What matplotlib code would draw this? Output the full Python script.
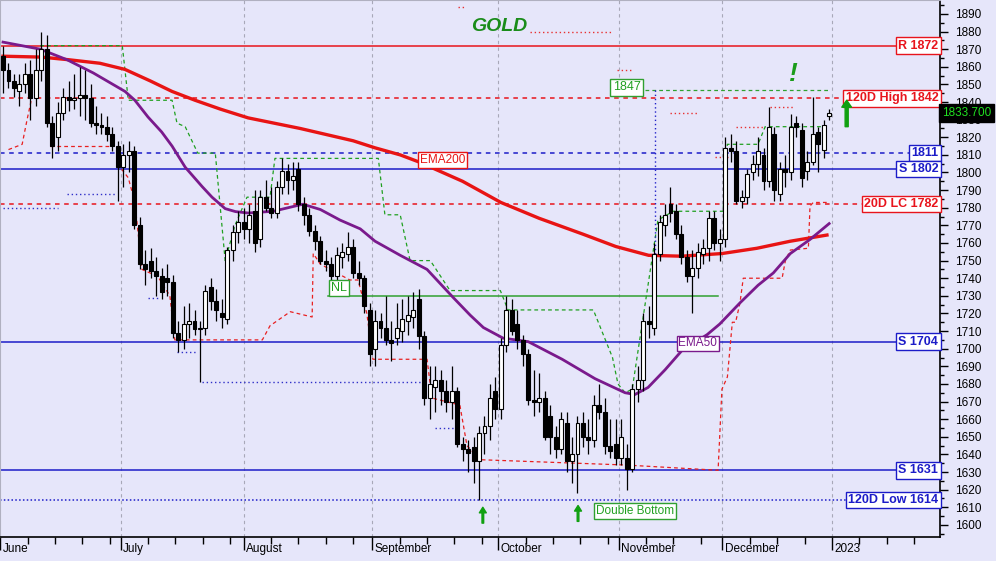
import numpy as np
import matplotlib
matplotlib.use("Agg")
import matplotlib.pyplot as plt
import matplotlib.transforms as mtransforms

# ---- data -----------------------------------------------------------------
opens = [1866, 1858, 1852, 1846, 1850, 1856, 1842, 1858, 1870, 1828, 1820, 1834, 1843, 1841, 1842, 1844,
         1842, 1828, 1827, 1826, 1822, 1815,
         1803, 1810, 1812, 1770, 1748, 1750, 1744, 1741, 1740, 1738, 1709, 1705, 1714, 1716, 1711, 1712,
         1735, 1727, 1720, 1717, 1756, 1766,
         1772, 1768, 1778, 1762, 1786, 1780, 1777, 1792, 1801, 1796, 1802, 1782, 1776, 1767, 1761, 1750,
         1748, 1741, 1752, 1754, 1758, 1743, 1740,
         1722, 1700, 1716, 1712, 1705, 1706, 1710, 1716, 1718, 1728, 1707, 1672, 1678, 1682, 1676, 1670,
         1676, 1646, 1643, 1644, 1636, 1652,
         1656, 1676, 1666, 1702, 1722, 1714, 1705, 1697, 1671, 1670, 1672, 1662, 1650, 1643, 1658, 1636,
         1640, 1658, 1650, 1648, 1668,
         1664, 1645, 1646, 1638, 1638, 1632, 1677, 1682, 1716, 1712, 1754, 1770, 1782, 1778, 1765, 1752,
         1741, 1746, 1754, 1757, 1774, 1760,
         1762, 1814, 1812, 1784, 1786, 1800, 1805, 1810, 1795, 1822, 1788, 1802, 1800, 1828, 1824, 1801,
         1806, 1823, 1813, 1832]
highs = [1872, 1862, 1856, 1856, 1862, 1864, 1870, 1880, 1878, 1832, 1840, 1848, 1852, 1856, 1860, 1858,
         1850, 1838, 1834, 1832, 1826, 1818,
         1816, 1818, 1815, 1775, 1756, 1757, 1752, 1746, 1748, 1742, 1716, 1724, 1726, 1722, 1716, 1736,
         1740, 1734, 1728, 1758, 1770, 1778,
         1780, 1782, 1790, 1790, 1796, 1792, 1795, 1808, 1805, 1806, 1806, 1786, 1780, 1770, 1764, 1756,
         1752, 1758, 1760, 1766, 1762, 1750, 1742,
         1726, 1722, 1720, 1730, 1716, 1726, 1728, 1730, 1732, 1734, 1710, 1690, 1690, 1688, 1682, 1690,
         1678, 1650, 1648, 1650, 1656, 1662,
         1680, 1684, 1706, 1730, 1728, 1722, 1708, 1700, 1688, 1686, 1676, 1668, 1656, 1664, 1664, 1650,
         1662, 1664, 1660, 1674, 1680,
         1672, 1660, 1660, 1660, 1646, 1680, 1690, 1720, 1724, 1760, 1776, 1782, 1792, 1782, 1770, 1756,
         1756, 1760, 1762, 1778, 1778, 1768,
         1820, 1822, 1818, 1790, 1802, 1810, 1820, 1814, 1837, 1826, 1806, 1810, 1833, 1832, 1828, 1812,
         1843, 1826, 1830, 1836]
lows = [1845, 1848, 1843, 1838, 1845, 1830, 1838, 1852, 1826, 1808, 1812, 1830, 1835, 1836, 1832, 1830,
        1826, 1822, 1822, 1818, 1812, 1784,
        1792, 1800, 1768, 1745, 1736, 1740, 1730, 1728, 1730, 1706, 1698, 1700, 1706, 1708, 1681, 1708,
        1722, 1716, 1712, 1714, 1750, 1760,
        1762, 1760, 1755, 1758, 1778, 1774, 1774, 1788, 1788, 1790, 1778, 1770, 1764, 1756, 1748, 1744,
        1738, 1738, 1746, 1750, 1740, 1736, 1720,
        1690, 1690, 1706, 1702, 1693, 1702, 1704, 1708, 1712, 1700, 1668, 1660, 1664, 1668, 1664, 1660,
        1644, 1636, 1630, 1624, 1614, 1640,
        1648, 1660, 1660, 1698, 1708, 1700, 1690, 1668, 1662, 1664, 1648, 1640, 1638, 1640, 1630, 1624,
        1618, 1644, 1640, 1644, 1660,
        1640, 1638, 1634, 1634, 1620, 1630, 1670, 1676, 1706, 1708, 1750, 1764, 1772, 1762, 1748, 1738,
        1720, 1740, 1748, 1750, 1756, 1750,
        1758, 1806, 1782, 1780, 1782, 1796, 1798, 1790, 1792, 1784, 1784, 1792, 1796, 1820, 1792, 1796,
        1804, 1800, 1808, 1830]
closes = [1858, 1852, 1848, 1850, 1856, 1842, 1858, 1870, 1828, 1815, 1834, 1843, 1841, 1842, 1844, 1842,
          1828, 1827, 1826, 1822, 1815, 1803,
          1810, 1812, 1770, 1748, 1745, 1744, 1741, 1732, 1738, 1709, 1705, 1714, 1716, 1711, 1712, 1733,
          1727, 1722, 1718, 1756, 1766, 1772,
          1768, 1776, 1760, 1786, 1780, 1777, 1792, 1801, 1796, 1798, 1782, 1776, 1767, 1761, 1750, 1748,
          1741, 1753, 1755, 1758, 1743, 1740, 1724,
          1697, 1716, 1712, 1705, 1703, 1712, 1717, 1719, 1722, 1707, 1672, 1680, 1682, 1676, 1670, 1676,
          1646, 1643, 1641, 1636, 1652, 1656,
          1672, 1666, 1702, 1722, 1710, 1705, 1697, 1671, 1670, 1672, 1650, 1650, 1643, 1660, 1636, 1640,
          1658, 1650, 1648, 1668, 1664,
          1645, 1642, 1638, 1650, 1632, 1677, 1682, 1716, 1714, 1754, 1772, 1776, 1777, 1765, 1752, 1741,
          1746, 1755, 1757, 1774, 1760, 1762,
          1814, 1812, 1784, 1786, 1799, 1805, 1812, 1795, 1826, 1790, 1802, 1800, 1826, 1826, 1797, 1806,
          1822, 1816, 1827, 1834]
last_price = 1833.7

# moving averages (candle index, value)
ema200_idx = [0, 7, 12, 17.7, 22.3, 26.9, 30.9, 35.1, 39.7, 44.8, 54.3, 64, 68, 72.6, 76, 84, 91, 98,
              106, 112, 118, 124, 131.4, 137.8, 143.9, 150.6]
ema200_val = [1866, 1865.5, 1864, 1862, 1858.5, 1852, 1846, 1841, 1836, 1831, 1825, 1818, 1814, 1810,
              1806, 1795, 1783, 1774, 1765, 1758, 1753, 1752.5, 1754, 1757, 1761, 1764.5]
ema50_idx = [0, 6.8, 11.7, 16.5, 22.3, 24.1, 26.5, 29, 30.9, 33.3, 36.4, 38.2, 40.6, 42.5, 44.8, 49.4,
             54.8, 58, 61.6, 65.3, 68, 72.6, 77.5, 82.3, 85.4, 87.8, 91.4, 96, 102.2, 108.2, 113.7,
             115.5, 117.9, 121, 124.1, 128.7, 131, 134.7, 138, 140.8, 143.9, 147.5, 151]
ema50_val = [1874, 1870, 1864, 1856.5, 1846, 1841, 1831.5, 1823, 1815, 1803, 1792, 1786, 1779.5, 1777.8,
             1777, 1778, 1782, 1779, 1773, 1768, 1761, 1753, 1745, 1729, 1719, 1712, 1706, 1704, 1694,
             1683, 1675, 1674, 1678, 1688, 1699, 1708, 1714, 1726, 1736, 1743, 1754, 1762, 1771]

# trailing channels (candle index, value)
hi_chan_idx = [6.8, 21.8, 22.9, 30.9, 31.8, 33.3, 35.6, 38.8, 40.6, 42.4, 44.6, 48.8, 49.7, 68.6, 69.8,
               72.6, 74.4, 78.1, 81.7, 90.9, 92.3, 107.9, 110.1, 111.4, 112.4, 113.7, 115, 119.7, 122.5,
               131.6, 132.4, 138, 139.3, 149.7]
hi_chan_val = [1872, 1872, 1841, 1841, 1828, 1826, 1811, 1811, 1750, 1770, 1786, 1786, 1808, 1808, 1776,
               1776, 1750, 1750, 1733, 1733, 1722, 1722, 1705, 1695, 1680, 1675, 1677, 1773, 1778,
               1778, 1816, 1816, 1826, 1826]
lo_chan_idx = [20.9, 22.9, 24.1, 25.4, 28.3, 30.5, 31.4, 47.4, 48.8, 52.5, 56.5, 56.7, 58, 59.8, 63.4,
               64.9, 66.5, 67.6, 77.5, 78.4, 83.5, 84.8, 87.2, 113.7, 130.7, 131.4, 132.4, 133.3,
               133.9, 134.7, 135.3, 142.4, 143, 143.9, 147.2, 147.5, 148.1, 150.6]
lo_chan_val = [1805, 1797, 1783, 1745, 1741, 1730, 1705, 1705, 1713, 1721, 1718, 1754, 1748, 1745, 1739,
               1739, 1720, 1694, 1694, 1672, 1668, 1645, 1637, 1634, 1631, 1677, 1684, 1715,
               1715, 1726, 1740, 1740, 1750, 1756, 1757, 1781, 1783, 1783]
lo_chan2_idx = [1, 3.5, 4.4, 5.3]
lo_chan2_val = [1813, 1816, 1830, 1843]
lo_chan3_idx = [8.6, 19.6]
lo_chan3_val = [1815, 1815]

blue_dot_segments = [((0, 10), 1780), ((11.7, 20.5), 1788), ((26.5, 28.3), 1729),
                     ((31.8, 35.5), 1698), ((36.4, 77.5), 1681), ((79, 83.5), 1655)]
red_dot_segments = [((83.2, 84.5), 1894), ((96.3, 111.5), 1880), ((112.3, 115.2), 1858),
                    ((122, 127), 1834), ((130.2, 132.6), 1809), ((134, 139), 1826),
                    ((140.2, 144.8), 1837)]

# horizontal levels: (value, label, colour, linestyle)
levels = [(1872, "R 1872", "#e8141c", "-"),
          (1842, "120D High 1842", "#e8141c", (0, (3, 3))),
          (1811, "1811", "#1c1cc8", (0, (3, 3))),
          (1802, "S 1802", "#1c1cc8", "-"),
          (1782, "20D LC 1782", "#e8141c", (0, (3, 3))),
          (1704, "S 1704", "#1c1cc8", "-"),
          (1631, "S 1631", "#1c1cc8", "-"),
          (1614, "120D Low 1614", "#1c1cc8", (0, (1, 1.5)))]

month_names = ["June", "July", "August", "September", "October", "November", "December", "2023"]
month_starts = [-0.5, 21.5, 44, 67.5, 90.5, 112.5, 131.5, 151.5]

neckline = 1730
breakout_high = 1847

# ---- figure -----------------------------------------------------------------
BG = "#e6e6fa"
SANS = ["Liberation Sans", "DejaVu Sans"]
NARROW = ["Liberation Sans Narrow", "Liberation Sans", "DejaVu Sans"]

fig = plt.figure(figsize=(9.96, 5.61), dpi=100, facecolor=BG)
ax = fig.add_axes([0.0, 0.043, 0.944, 0.957], facecolor=BG)

n = len(closes)
x = np.arange(n)
o, h, l, c = map(np.asarray, (opens, highs, lows, closes))

ax.set_xlim(-0.55, 171.3)
ax.set_ylim(1593.2, 1897.9)

# month grid
for ms in month_starts[1:]:
    ax.axvline(ms, color="#a8a8b8", lw=0.8, ls=(0, (3, 3)), zorder=1)

# levels
ymix = mtransforms.blended_transform_factory(ax.transAxes, ax.transData)
for val, lab, col, ls in levels:
    ax.axhline(val, color=col, lw=1.1, ls=ls, zorder=2)
    ax.text(0.998, val, lab, transform=ymix, ha="right", va="center", color=col,
            fontsize=9, fontweight="bold", family=SANS, zorder=10,
            bbox=dict(boxstyle="square,pad=0.18", fc="white", ec=col, lw=1))

# dotted short channels
for (x0, x1), v in blue_dot_segments:
    ax.plot([x0, x1], [v, v], color="#3030c8", lw=1, ls=(0, (1, 2)), zorder=2)
for (x0, x1), v in red_dot_segments:
    ax.plot([x0, x1], [v, v], color="#e83030", lw=1, ls=(0, (1, 2)), zorder=2)

# trailing channels
ax.plot(hi_chan_idx, hi_chan_val, color="#20a020", lw=0.9, ls=(0, (3, 2.5)), zorder=3)
ax.plot(lo_chan_idx, lo_chan_val, color="#e82020", lw=0.9, ls=(0, (3, 2.5)), zorder=3)
ax.plot(lo_chan2_idx, lo_chan2_val, color="#e82020", lw=0.9, ls=(0, (3, 2.5)), zorder=3)
ax.plot(lo_chan3_idx, lo_chan3_val, color="#e82020", lw=0.9, ls=(0, (3, 2.5)), zorder=3)

# neckline and breakout
ax.plot([59.4, 130.7], [neckline, neckline], color="#30a030", lw=1.1, zorder=3)
ax.text(61.4, neckline + 1.2, "NL", color="#20a020", fontsize=9, ha="center", va="bottom",
        family=SANS, zorder=10,
        bbox=dict(boxstyle="square,pad=0.15", fc="white", ec="#30a030", lw=1))
ax.plot([117.4, 151], [breakout_high, breakout_high], color="#30a030", lw=0.9,
        ls=(0, (3, 2.5)), zorder=3)
ax.text(114, breakout_high + 1.5, "1847", color="#20a020", fontsize=9, ha="center", va="center",
        family=SANS, zorder=10,
        bbox=dict(boxstyle="square,pad=0.2", fc="white", ec="#30a030", lw=1))
ax.plot([119.2, 119.2], [breakout_high, 1752], color="#2020c8", lw=1, ls=(0, (1, 2)), zorder=3)

# EMAs
ax.plot(ema200_idx, ema200_val, color="#e81414", lw=2.4, zorder=4, solid_joinstyle="round")
ax.plot(ema50_idx, ema50_val, color="#7a1a8c", lw=2.0, zorder=4, solid_joinstyle="round")
ax.text(80.4, 1807, "EMA200", color="#e81414", fontsize=8.5, ha="center", va="center",
        family=SANS, zorder=10,
        bbox=dict(boxstyle="square,pad=0.15", fc="white", ec="#e81414", lw=1))
ax.text(127, 1703, "EMA50", color="#7a1a8c", fontsize=8.5, ha="center", va="center",
        family=SANS, zorder=10,
        bbox=dict(boxstyle="square,pad=0.15", fc="white", ec="#7a1a8c", lw=1))

# candles
ax.vlines(x, l, h, color="black", lw=0.9, zorder=5)
up = c >= o
ax.bar(x[up], (c - o)[up], bottom=o[up], width=0.72, facecolor="white", edgecolor="black",
       lw=0.8, zorder=6)
ax.bar(x[~up], (o - c)[~up], bottom=c[~up], width=0.72, facecolor="black", edgecolor="black",
       lw=0.8, zorder=6)

# annotations
ax.text(90.7, 1883, "GOLD", color="#1a8c1a", fontsize=14, fontweight="bold", style="italic",
        ha="center", va="center", family=SANS, zorder=10)
ax.text(144.5, 1856, "!", color="#1a9c1a", fontsize=19, fontweight="bold", style="italic",
        ha="center", va="center", family=SANS, zorder=10)
arrow = dict(facecolor="#10a010", edgecolor="#10a010", width=2.2, headwidth=7, headlength=5)
ax.annotate("", xy=(154.2, 1841), xytext=(154.2, 1826), arrowprops=arrow, zorder=10)
thin = dict(facecolor="#10a010", edgecolor="#10a010", width=1.2, headwidth=5, headlength=4)
ax.annotate("", xy=(87.7, 1610), xytext=(87.7, 1601), arrowprops=thin, zorder=10)
ax.annotate("", xy=(105.1, 1611), xytext=(105.1, 1602), arrowprops=thin, zorder=10)
ax.text(115.5, 1608, "Double Bottom", color="#20a020", fontsize=8.5, ha="center", va="center",
        family=NARROW, zorder=10,
        bbox=dict(boxstyle="square,pad=0.15", fc="white", ec="#30a030", lw=1))

# last price tag
ax.text(1.002, last_price, f"{last_price:.3f}", transform=ymix, ha="left", va="center",
        color="#20e020", fontsize=8.5, family=NARROW, clip_on=False, zorder=10,
        bbox=dict(boxstyle="square,pad=0.25", fc="black", ec="black"))

# axes styling
ax.yaxis.tick_right()
ax.set_yticks(np.arange(1600, 1891, 10))
ax.set_yticks(np.arange(1595, 1896, 5), minor=True)
ax.tick_params(axis="y", which="major", length=6, width=1, labelsize=8.5, pad=5)
ax.tick_params(axis="y", which="minor", length=3, width=1)
for lab in ax.get_yticklabels():
    lab.set_family(SANS)

ax.set_xticks(month_starts)
ax.set_xticklabels([])
minor_x = []
for a, b in zip(month_starts[:-1], month_starts[1:]):
    minor_x.extend(np.arange(a + 5, b - 1, 5))
minor_x.extend(np.arange(month_starts[-1] + 5, 171, 5))
ax.set_xticks(minor_x, minor=True)
ax.tick_params(axis="x", which="major", length=9, width=1)
ax.tick_params(axis="x", which="minor", length=5, width=1)
xmix = mtransforms.blended_transform_factory(ax.transData, ax.transAxes)
for ms, name in zip(month_starts, month_names):
    ax.text(ms + 0.4, -0.012, name, transform=xmix, ha="left", va="top", fontsize=8.5,
            family=NARROW, clip_on=False)

for side in ("left", "top"):
    ax.spines[side].set_color("#b0b0c0")
ax.spines["right"].set_linewidth(1.2)
ax.spines["bottom"].set_linewidth(1.2)

fig.savefig("out.png", dpi=100, facecolor=BG)
